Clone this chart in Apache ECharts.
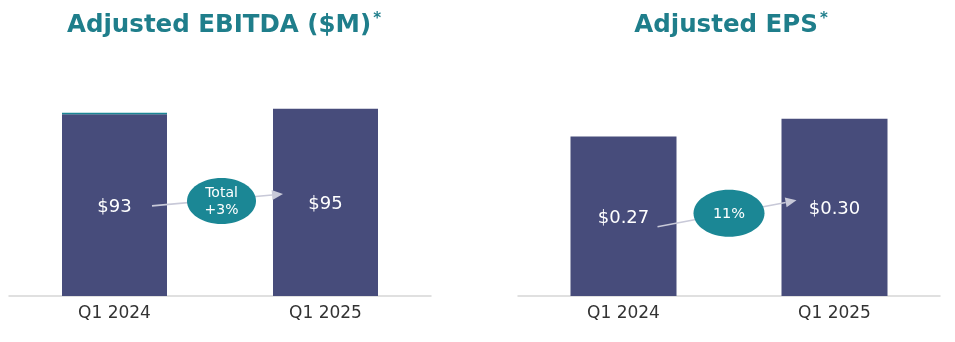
<!DOCTYPE html>
<html>
<head>
<meta charset="utf-8">
<script src="https://cdn.jsdelivr.net/npm/echarts@6/dist/echarts.min.js"></script>
<style>
html,body{margin:0;padding:0;background:#fff;}
#c{width:955px;height:342px;}
</style>
</head>
<body>
<div id="c"></div>
<script>
// ---- data ----
const ebitdaTitle = 'Adjusted EBITDA ($M)';
const epsTitle = 'Adjusted EPS';
const ebitdaCategories = ['Q1 2024', 'Q1 2025'];
const ebitdaValues = [93, 95];
const ebitdaAccent = [0.8, 0];          // thin teal cap on top of the first bar
const ebitdaLabels = ['$93', '$95'];
const ebitdaChange = ['Total', '+3%'];
const epsCategories = ['Q1 2024', 'Q1 2025'];
const epsValues = [0.27, 0.30];
const epsLabels = ['$0.27', '$0.30'];
const epsChange = ['11%'];

// ---- styles ----
const FONT = 'DejaVu Sans';
const BAR = '#474c7b';
const TEAL = '#1b8795';
const TITLE = '#1f7e8b';
const ARROW = '#c8c9d8';

const chart = echarts.init(document.getElementById('c'), null, {renderer: 'canvas'});

function xAxis(gi, cats) {
  return {
    type: 'category', gridIndex: gi, data: cats,
    axisLine: {show: true, lineStyle: {color: '#d6d6d6', width: 1.5}},
    axisTick: {show: false},
    axisLabel: {color: '#333', fontSize: 17, fontFamily: FONT, margin: 9}
  };
}
function yAxis(gi, max) {
  return {type: 'value', gridIndex: gi, min: 0, max: max, show: false, splitLine: {show: false}};
}
function insideLabel(labels) {
  return {
    show: true, position: 'inside', offset: [0, 2], color: '#fff', fontSize: 18, fontFamily: FONT,
    formatter: p => labels[p.dataIndex]
  };
}

chart.setOption({
  animation: false,
  grid: [
    {left: 9, width: 422, top: 99, height: 197},
    {left: 518, width: 422, top: 101, height: 195}
  ],
  xAxis: [xAxis(0, ebitdaCategories), xAxis(1, epsCategories)],
  yAxis: [yAxis(0, 100), yAxis(1, 0.33)],
  series: [
    {
      type: 'bar', xAxisIndex: 0, yAxisIndex: 0, stack: 'e', barWidth: 105,
      data: ebitdaValues.map((v, i) => v - ebitdaAccent[i]),
      itemStyle: {color: BAR},
      label: insideLabel(ebitdaLabels)
    },
    {
      type: 'bar', xAxisIndex: 0, yAxisIndex: 0, stack: 'e', barWidth: 105,
      data: ebitdaAccent,
      itemStyle: {color: TEAL}
    },
    {
      type: 'bar', xAxisIndex: 1, yAxisIndex: 1, barWidth: 106,
      data: epsValues,
      itemStyle: {color: BAR},
      label: insideLabel(epsLabels)
    }
  ]
});

function mid(gi, ci, v) {
  return chart.convertToPixel({xAxisIndex: gi, yAxisIndex: gi}, [ci, v / 2]);
}

function annotation(gi, values, text, o) {
  const a = mid(gi, 0, values[0]);
  const b = mid(gi, 1, values[1]);
  const s = [a[0] + o.sx, a[1] + o.sy];
  const e = [b[0] + o.ex, b[1] + o.ey];
  const ang = Math.atan2(e[1] - s[1], e[0] - s[0]);
  const L = 11, W = 5;
  const bx = e[0] - L * Math.cos(ang), by = e[1] - L * Math.sin(ang);
  const px = -Math.sin(ang) * W, py = Math.cos(ang) * W;
  const cx = (a[0] + b[0]) / 2 + o.cx, cy = (a[1] + b[1]) / 2 + o.cy;
  return [
    {type: 'line', z: 10, shape: {x1: s[0], y1: s[1], x2: bx, y2: by}, style: {stroke: ARROW, lineWidth: 1.6}},
    {type: 'polygon', z: 10, shape: {points: [[e[0], e[1]], [bx + px, by + py], [bx - px, by - py]]}, style: {fill: ARROW}},
    {type: 'ellipse', z: 11, shape: {cx: cx, cy: cy, rx: o.rx, ry: o.ry}, style: {fill: TEAL}},
    {type: 'text', z: 12, x: cx, y: cy + 0.5, style: {
      text: text.join('\n'), fill: '#fff', font: o.fs + 'px "' + FONT + '"',
      align: 'center', verticalAlign: 'middle', lineHeight: 17
    }}
  ];
}

function title(x, txt) {
  return {
    type: 'text', x: x, y: 25.5,
    style: {
      text: '{a|' + txt + '}{s|*}', align: 'center', verticalAlign: 'middle',
      rich: {
        a: {fontFamily: FONT, fontWeight: 'bold', fontSize: 24.5, fill: TITLE, color: TITLE},
        s: {fontFamily: FONT, fontWeight: 'bold', fontSize: 15, fill: TITLE, color: TITLE, verticalAlign: 'top', padding: [0, 0, 13, 2]}
      }
    }
  };
}

const g = [].concat(
  annotation(0, ebitdaValues, ebitdaChange, {sx: 37.5, sy: 1.5, ex: -42.5, ey: -8.5, cx: 1.5, cy: -2.5, rx: 34.5, ry: 23, fs: 14}),
  annotation(1, epsValues, epsChange, {sx: 34, sy: 10.5, ex: -38, ey: -7, cx: 0, cy: 1.5, rx: 35.5, ry: 23.5, fs: 14.5}),
  [title(224, ebitdaTitle), title(731, epsTitle)]
);
chart.setOption({graphic: g});
</script>
</body>
</html>
